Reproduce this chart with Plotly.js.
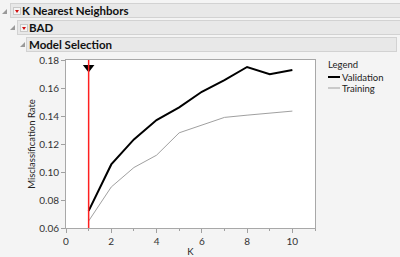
<!DOCTYPE html>
<html><head><meta charset="utf-8">
<script src="https://cdn.plot.ly/plotly-3.0.1.min.js"></script>
<style>
html,body{margin:0;padding:0;background:#f4f4f4;width:400px;height:257px;overflow:hidden;font-family:Lato,"Noto Sans",sans-serif;}
#chart{position:absolute;left:0;top:0;width:400px;height:257px;}
.hdr{position:absolute;background:#e8e8e8;border:1px solid #d2d2d2;box-sizing:border-box;height:15px;}
.hdr span{position:absolute;top:-1px;font-weight:bold;font-size:11.5px;color:#111;white-space:nowrap;line-height:15px;font-family:Lato,"Noto Sans",sans-serif;}
.btn{position:absolute;width:8px;height:8px;background:#f4f4f4;border:1px solid #c8c8c8;box-sizing:border-box;}
.btn:after{content:"";position:absolute;left:1px;top:2px;border-left:2.5px solid transparent;border-right:2.5px solid transparent;border-top:3px solid #d01010;}
.dis{position:absolute;width:0;height:0;border-left:5px solid transparent;border-bottom:5px solid #9a9a9a;}
</style></head>
<body>
<div id="chart"></div>
<div class="dis" style="left:2px;top:9px"></div>
<div class="hdr" style="left:10px;top:3px;width:392px;"><div class="btn" style="left:2px;top:3px"></div><span style="left:11px">K Nearest Neighbors</span></div>
<div class="dis" style="left:10px;top:25px"></div>
<div class="hdr" style="left:17px;top:20px;width:385px;"><div class="btn" style="left:2px;top:3px"></div><span style="left:11px">BAD</span></div>
<div class="dis" style="left:20px;top:42px"></div>
<div class="hdr" style="left:26px;top:37px;width:371px;"><span style="left:2px">Model Selection</span></div>
<script>
const K = [1,2,3,4,5,6,7,8,9,10];
const validation = [0.0722,0.1054,0.1233,0.1371,0.1462,0.1573,0.1657,0.1750,0.1698,0.1728];
const training   = [0.0650,0.0893,0.1032,0.1120,0.1280,0.1333,0.1390,0.1406,0.1420,0.1435];
const seriesNames = ["Validation","Training"];
const selectedK = 1;
const xRange = [0,11];
const yRange = [0.06,0.18];
const xTicks = [0,2,4,6,8,10];
const yTicks = [0.06,0.08,0.10,0.12,0.14,0.16,0.18];

const W=400,H=257, L=66, R=315, T=60, B=228;
const px2x = p => (p-L)/(R-L);
const py2y = p => (B-p)/(B-T);
const font = "Lato, Noto Sans, sans-serif";

const traces = [
 {x:K, y:training, type:'scatter', mode:'lines', name:seriesNames[1], line:{color:'#a0a0a0', width:1}, hoverinfo:'skip'},
 {x:K, y:validation, type:'scatter', mode:'lines', name:seriesNames[0], line:{color:'#000000', width:2}, hoverinfo:'skip'},
 {x:[selectedK], y:[yRange[1]-(yRange[1]-yRange[0])*0.045], type:'scatter', mode:'markers', marker:{symbol:'triangle-down', size:10, color:'#000'}, hoverinfo:'skip'}
];

const colors = ['#000000','#a0a0a0'], widths=[2,1];
const shapes = [
 {type:'line', xref:'x', yref:'paper', x0:selectedK, x1:selectedK, y0:0, y1:1, line:{color:'#ff2020', width:1.5}}
];
const annotations = [
 {xref:'paper', yref:'paper', x:px2x(327), y:py2y(64), xanchor:'left', yanchor:'middle', text:'Legend', showarrow:false, borderpad:0, font:{family:font, size:9.5, color:'#222'}}
];
seriesNames.forEach((n,i)=>{
  const yc = 77 + i*11;
  shapes.push({type:'line', xref:'paper', yref:'paper', x0:px2x(328), x1:px2x(340), y0:py2y(yc), y1:py2y(yc), line:{color:colors[i], width:widths[i]}});
  annotations.push({xref:'paper', yref:'paper', x:px2x(341), y:py2y(yc), xanchor:'left', yanchor:'middle', text:n, showarrow:false, borderpad:0, font:{family:font, size:9.5, color:'#222'}});
});

const layout = {
 width:W, height:H, margin:{l:L, r:W-R, t:T, b:H-B, pad:0},
 paper_bgcolor:'rgba(0,0,0,0)', plot_bgcolor:'#ffffff', showlegend:false,
 font:{family:font, size:9.5, color:'#333333'},
 xaxis:{range:xRange, tickvals:xTicks, ticktext:xTicks.map(String), ticks:'outside', ticklen:4, tickcolor:'#a0a0a0',
   minor:{dtick:1, ticks:'outside', ticklen:2, tickcolor:'#a0a0a0', showgrid:false},
   showline:true, linecolor:'#a8a8a8', mirror:true, showgrid:false, zeroline:false,
   title:{text:'K', font:{family:font, size:9.5, color:'#222222'}, standoff:2}, tickfont:{size:10, color:'#333333'}},
 yaxis:{range:yRange, tickvals:yTicks, ticktext:yTicks.map(v=>v.toFixed(2)), ticks:'outside', ticklen:4, tickcolor:'#a0a0a0',
   showline:true, linecolor:'#a8a8a8', mirror:true, showgrid:false, zeroline:false,
   title:{text:'Misclassification Rate', font:{family:font, size:9.5, color:'#222222'}, standoff:1}, tickfont:{size:10, color:'#333333'}},
 shapes, annotations
};
Plotly.newPlot('chart', traces, layout, {staticPlot:true, displayModeBar:false});
</script>
</body></html>
